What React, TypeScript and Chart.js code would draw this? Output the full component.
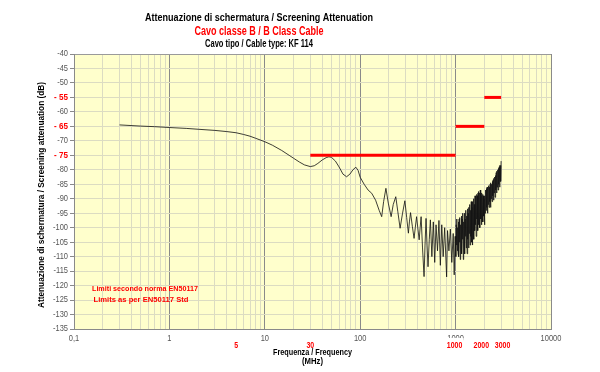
import React, { useEffect, useRef } from "react";
import { Chart, registerables } from "chart.js";
Chart.register(...registerables);

// Measured screening attenuation (MHz, dB)
const freqMHz = [
  0.3, 0.5, 0.7, 1, 1.5, 2, 3, 4, 5, 6, 7, 8, 10, 12, 15, 18, 20, 23, 26, 30,
  33, 36, 40, 44, 47, 50, 55, 60, 66, 72, 78, 84, 90, 95, 100, 110, 121, 132,
  145, 158, 168, 176, 186, 197, 211, 222, 236, 248, 262, 278, 294, 307, 320,
  328, 337, 352, 367, 378, 390, 403, 415, 425, 435, 450, 467, 478, 490, 502,
  514, 530, 544, 564, 584, 604, 624, 646, 669, 692, 716, 741, 768, 805, 823,
  851, 881, 912, 944, 967, 989,
  1005, 1015, 1025, 1034, 1043, 1052, 1062, 1071, 1081, 1090, 1100, 1110,
  1120, 1130, 1141, 1151, 1162, 1172, 1183, 1194, 1205, 1216, 1227, 1238,
  1250, 1261, 1273, 1284, 1296, 1308, 1320, 1332, 1344, 1356, 1369, 1381,
  1394, 1407, 1420, 1433, 1446, 1459, 1473, 1486, 1500, 1513, 1527, 1541,
  1555, 1569, 1584, 1598, 1613, 1628, 1643, 1658, 1673, 1688, 1704, 1719,
  1735, 1751, 1767, 1783, 1800, 1816, 1833, 1850, 1867, 1884, 1901, 1918,
  1936, 1954, 1972, 1990, 2008, 2026, 2045, 2064, 2083, 2102, 2121, 2140,
  2160, 2180, 2200, 2220, 2240, 2260, 2281, 2302, 2323, 2344, 2366, 2388,
  2410, 2432, 2454, 2476, 2499, 2522, 2545, 2568, 2592, 2616, 2640, 2664,
  2688, 2713, 2738, 2763, 2788, 2814, 2840, 2866, 2892, 2918, 2945, 2960,
  2978, 3000,
];
const attenDb = [
  -64.5, -64.9, -65.1, -65.4, -65.7, -66.0, -66.4, -66.8, -67.2, -67.8, -68.4,
  -69.1, -70.3, -71.5, -73.3, -75.0, -76.0, -77.3, -78.3, -78.9, -78.6, -77.8,
  -76.6, -75.8, -75.5, -75.7, -77.0, -79.0, -81.5, -82.4, -81.5, -80.0, -79.1,
  -80.2, -82.6, -85.0, -87.0, -88.1, -90.5, -94.0, -96.2, -91.0, -86.4, -91.5,
  -96.2, -92.0, -89.3, -94.5, -100.2, -95.0, -90.7, -96.5, -101.9, -98.0,
  -94.8, -99.5, -103.7, -100.0, -96.2, -100.5, -104.2, -100.0, -96.2, -107.0,
  -116.9, -106.0, -96.8, -106.0, -113.5, -104.0, -97.3, -110, -98, -112, -99,
  -108, -97.5, -113, -99, -110, -100, -117, -101, -108, -100.5, -112, -102,
  -116.3, -103,
  -110, -99, -106, -97, -108, -100, -109, -98, -110, -97, -105, -96.5,
  -111, -99, -107, -96, -109, -97, -104, -95, -111, -98, -106, -95,
  -109, -97, -103, -94, -107, -96, -109, -93.5, -104, -95, -107, -93,
  -102, -92, -106, -94, -103, -91, -105, -93, -106, -91, -100, -90,
  -104, -92, -101, -89, -99, -90, -103, -88.5, -97, -89, -101, -88,
  -99, -87.5, -96, -88, -100, -87, -97, -89, -99, -88, -95, -88.5,
  -98, -89, -96, -90, -99, -89, -95, -87, -94, -86.5, -93, -86,
  -95, -87, -92, -85.5, -93, -86, -91, -85, -93, -84.5, -90, -85,
  -91, -84, -89, -83.5, -90.5, -83, -88, -82.5, -89.5, -82, -87, -81,
  -88, -80.5, -86, -80, -87, -79.5, -85, -79, -86, -78.5, -84, -78.5,
  -84, -77,
];

// EN50117 limits
const limitStartMHz = [30, 1000, 2000];
const limitEndMHz = [1000, 2000, 3000];
const limitDb = [-75, -65, -55];

// Axis labels
const decadeTicks = [0.1, 1, 10, 100, 1000, 10000];
const decadeLabels = ["0,1", "1", "10", "100", "1000", "10000"];
const redFreqLabels = [5, 30, 1000, 2000, 3000];
const redFreqNudge = [0, 0, -1, -3, 1.5];
const redDbLabels = [-55, -65, -75];

const titleLines = [
  "Attenuazione di schermatura / Screening Attenuation",
  "Cavo classe B / B Class Cable",
  "Cavo tipo / Cable type: KF 114",
];
const xTitle = ["Frequenza / Frequency", "(MHz)"];
const yTitle = "Attenuazione di schermatura / Screening attenuation (dB)";
const noteLines = ["Limiti secondo norma EN50117", "Limits as per EN50117 Std"];

const FONT = "'Liberation Sans', Arial, sans-serif";

function drawText(
  ctx: CanvasRenderingContext2D,
  s: string,
  x: number,
  y: number,
  font: string,
  color: string,
  align: CanvasTextAlign,
  opts: { sx?: number; width?: number; baseline?: CanvasTextBaseline; rot?: number } = {}
) {
  ctx.save();
  ctx.font = font;
  ctx.fillStyle = color;
  ctx.textBaseline = opts.baseline || "alphabetic";
  ctx.textAlign = align;
  const w = ctx.measureText(s).width;
  const k = opts.width ? opts.width / w : opts.sx || 1;
  ctx.translate(x, y);
  if (opts.rot) ctx.rotate(opts.rot);
  ctx.scale(k, 1);
  ctx.fillText(s, 0, 0);
  ctx.restore();
}

const decorPlugin = {
  id: "decor",
  beforeDraw(chart: any) {
    const { ctx, chartArea: a } = chart;
    ctx.save();
    ctx.fillStyle = "#ffffff";
    ctx.fillRect(0, 0, chart.width, chart.height);
    ctx.fillStyle = "#ffffcc";
    ctx.fillRect(a.left, a.top, a.right - a.left, a.bottom - a.top);
    ctx.restore();
  },
  afterDraw(chart: any) {
    const { ctx, chartArea: a } = chart;
    const xs = chart.scales.x;
    const ys = chart.scales.y;
    // titles
    drawText(ctx, titleLines[0], 259, 21, `bold 11.5px ${FONT}`, "#000", "center", { width: 228 });
    drawText(ctx, titleLines[1], 259, 35, `bold 12px ${FONT}`, "#ff0000", "center", { width: 129 });
    drawText(ctx, titleLines[2], 259, 46.5, `bold 10px ${FONT}`, "#000", "center", { width: 108 });
    // y tick labels
    ys.ticks.forEach((t: any) => {
      const v = t.value;
      const py = ys.getPixelForValue(v);
      if (redDbLabels.includes(v)) {
        drawText(ctx, "- " + Math.abs(v), a.left - 6, py, `bold 8.5px ${FONT}`, "#ff0000", "right", { sx: 0.95, baseline: "middle" });
      } else {
        drawText(ctx, String(v), a.left - 6, py, `8.5px ${FONT}`, "#555", "right", { sx: 0.88, baseline: "middle" });
      }
    });
    // x decade labels
    decadeTicks.forEach((v, i) => {
      const px = xs.getPixelForValue(v);
      drawText(ctx, decadeLabels[i], px, 341, `8.5px ${FONT}`, "#555", "center", { sx: 0.88 });
    });
    // red frequency labels
    redFreqLabels.forEach((v, i) => {
      const px = xs.getPixelForValue(v) + redFreqNudge[i];
      if (v === 1000) {
        ctx.save();
        ctx.fillStyle = "#fff";
        ctx.fillRect(px - 9, 338, 18, 9);
        ctx.restore();
      }
      drawText(ctx, String(v), px, 347.5, `bold 8.5px ${FONT}`, "#ff0000", "center", { sx: 0.82 });
    });
    // axis titles
    const cx = (a.left + a.right) / 2;
    drawText(ctx, xTitle[0], cx, 355, `bold 9px ${FONT}`, "#000", "center", { width: 79 });
    drawText(ctx, xTitle[1], cx, 363.5, `bold 9px ${FONT}`, "#000", "center", { width: 21 });
    drawText(ctx, yTitle, 42, 195, `bold 9px ${FONT}`, "#000", "center", {
      width: 226,
      baseline: "middle",
      rot: -Math.PI / 2,
    });
    // limits note
    drawText(ctx, noteLines[0], 145, 291, `bold 8px ${FONT}`, "#ff0000", "center", { width: 106 });
    drawText(ctx, noteLines[1], 141, 302, `bold 8px ${FONT}`, "#ff0000", "center", { width: 95 });
  },
};

const xGridValues: number[] = [];
decadeTicks.forEach((d) => {
  if (d === 10000) xGridValues.push(d);
  else for (let m = 1; m <= 9; m++) xGridValues.push(Number((m * d).toPrecision(3)));
});

export default function App() {
  const ref = useRef<HTMLCanvasElement | null>(null);
  useEffect(() => {
    if (!ref.current) return;
    const datasets: any[] = [
      {
        data: freqMHz.map((f, i) => ({ x: f, y: attenDb[i] })),
        borderColor: "rgba(20,20,20,0.82)",
        borderWidth: 1,
        pointRadius: 0,
        tension: 0,
        order: 2,
      },
    ];
    limitDb.forEach((db, i) => {
      datasets.push({
        data: [
          { x: limitStartMHz[i], y: db },
          { x: limitEndMHz[i], y: db },
        ],
        borderColor: "#ff0000",
        borderWidth: 3,
        pointRadius: 0,
        order: 1,
      });
    });
    const chart = new Chart(ref.current, {
      type: "line",
      data: { datasets },
      options: {
        responsive: false,
        animation: false,
        layout: { padding: { top: 54, right: 49, left: 0, bottom: 0 } },
        plugins: { legend: { display: false }, tooltip: { enabled: false }, title: { display: false } },
        scales: {
          x: {
            type: "logarithmic",
            min: 0.1,
            max: 10000,
            afterBuildTicks: (s: any) => {
              s.ticks = xGridValues.map((v) => ({ value: v }));
            },
            afterFit: (s: any) => {
              s.height = 43;
            },
            ticks: { display: false, autoSkip: false },
            grid: {
              drawTicks: false,
              color: (c: any) => {
                const v = c.tick ? c.tick.value : 0;
                return decadeTicks.some((d) => Math.abs(v - d) < d * 1e-6) ? "#8a8a8a" : "#dcdcc2";
              },
            },
            border: { color: "#8a8a8a" },
          },
          y: {
            type: "linear",
            min: -135,
            max: -40,
            afterFit: (s: any) => {
              s.width = 74;
            },
            ticks: { display: false, stepSize: 5 },
            grid: {
              color: (c: any) => (c.tick && c.tick.value === -40 ? "#9a9a9a" : "#dcdcc2"),
              tickColor: "#8a8a8a",
              tickLength: 4,
            },
            border: { color: "#8a8a8a" },
          },
        },
      } as any,
      plugins: [decorPlugin],
    });
    return () => chart.destroy();
  }, []);
  return (
    <div style={{ position: "absolute", left: 0, top: 0, width: 600, height: 372 }}>
      <canvas ref={ref} width={600} height={372} style={{ width: 600, height: 372 }} />
    </div>
  );
}
